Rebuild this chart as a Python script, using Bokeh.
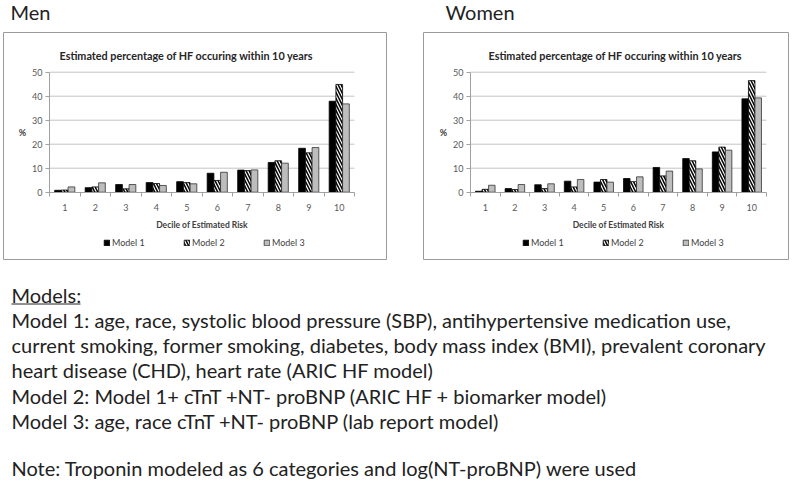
from bokeh.plotting import figure
from bokeh.models import ColumnDataSource, Range1d, LinearAxis, FixedTicker, Label
from bokeh.transform import dodge
from bokeh.layouts import column, row
from bokeh.embed import file_html
from bokeh.resources import INLINE
from bokeh.core.properties import value

# ---------------- data ----------------
deciles = [1, 2, 3, 4, 5, 6, 7, 8, 9, 10]
men_model1 = [0.8, 1.9, 3.2, 4.0, 4.4, 7.9, 9.2, 12.4, 18.3, 37.9]
men_model2 = [0.9, 2.2, 1.4, 3.6, 4.0, 4.9, 9.0, 13.1, 16.4, 44.9]
men_model3 = [2.2, 3.9, 3.2, 2.8, 3.5, 8.3, 9.3, 12.1, 18.6, 36.8]
women_model1 = [0.4, 1.5, 3.1, 4.6, 4.2, 5.7, 10.3, 14.0, 16.8, 38.9]
women_model2 = [1.2, 1.1, 1.5, 2.2, 5.3, 4.4, 6.8, 13.1, 18.8, 46.5]
women_model3 = [2.9, 3.2, 3.5, 5.3, 4.2, 6.4, 8.8, 9.7, 17.5, 39.3]
y_ticks = [0, 10, 20, 30, 40, 50]
series_names = ["Model 1", "Model 2", "Model 3"]
chart_title = "Estimated percentage of HF occuring within 10 years"
x_label = "Decile of Estimated Risk"
y_label = "%"
headings = ["Men", "Women"]
notes_header = "Models:"
notes_lines = [
    "Model 1: age, race, systolic blood pressure (SBP), antihypertensive medication use,",
    "current smoking, former smoking, diabetes, body mass index (BMI), prevalent coronary",
    "heart disease (CHD), heart rate (ARIC HF model)",
    "Model 2: Model 1+ cTnT +NT- proBNP (ARIC HF + biomarker model)",
    "Model 3: age, race cTnT +NT- proBNP (lab report model)",
]
note_footer = "Note: Troponin modeled as 6 categories and log(NT-proBNP) were used"

# ---------------- style / layout constants (page pixels) ----------------
FONT = "Lato"
TEXT_COLOR = "#222222"
AXIS_COLOR = "#a0a0a0"
BOX_COLOR = "#9a9a9a"
GRID_COLOR = "#c4c4c4"
W_TOTAL = 800
HDR_H = 31          # page y 0..31
CHART_H = 239       # page y 31..270
NOTES_H = 213       # page y 270..483
CHART_TOP = HDR_H
NOTES_TOP = HDR_H + CHART_H
FRAME_T, FRAME_B = 32, 259      # chart box, page px
Y0_PX, Y50_PX = 191.7, 71.7     # page px of value 0 and 50
BAR_W = 0.22
NOTE_SIZE = 20
MID = 0.35 * NOTE_SIZE          # baseline -> "middle" anchor shift


def make_chart(fig_l, fig_w, frame_l, frame_r, plot_l, plot_r, title_cx, legend_l, m1, m2, m3):
    ux = (plot_r - plot_l) / len(deciles)
    x_start = 0.5 - (plot_l - frame_l) / ux
    x_end = len(deciles) + 0.5 + (frame_r - plot_r) / ux
    uy = (Y0_PX - Y50_PX) / y_ticks[-1]
    y_end = y_ticks[-1] + (Y50_PX - FRAME_T) / uy
    y_start = -(FRAME_B - Y0_PX) / uy

    def px_x(px):
        return x_start + (px - frame_l) / ux

    def px_y(py):
        return (Y0_PX - py) / uy

    p = figure(width=fig_w, height=CHART_H, title=None,
               x_range=Range1d(x_start, x_end), y_range=Range1d(y_start, y_end),
               x_axis_type=None, y_axis_type=None, toolbar_location=None,
               output_backend="svg",
               min_border_left=frame_l - fig_l, min_border_right=fig_l + fig_w - frame_r,
               min_border_top=FRAME_T - CHART_TOP, min_border_bottom=CHART_TOP + CHART_H - FRAME_B)
    p.outline_line_color = BOX_COLOR
    p.outline_line_width = 1
    p.background_fill_color = "white"
    p.border_fill_color = "white"

    # gridlines across the plot area
    gsrc = ColumnDataSource(dict(y=y_ticks[1:],
                                 x0=[0.5] * (len(y_ticks) - 1),
                                 x1=[len(deciles) + 0.5] * (len(y_ticks) - 1)))
    p.segment(x0="x0", x1="x1", y0="y", y1="y", source=gsrc, line_color=GRID_COLOR, line_width=1)

    src = ColumnDataSource(dict(decile=deciles, m1=m1, m2=m2, m3=m3))
    p.vbar(x=dodge("decile", -BAR_W, range=p.x_range), top="m1", bottom=0, width=BAR_W, source=src,
           fill_color="black", line_color="black", line_width=0.8, legend_label=series_names[0])
    p.vbar(x=dodge("decile", 0, range=p.x_range), top="m2", bottom=0, width=BAR_W, source=src,
           fill_color="white", hatch_pattern="\\", hatch_color="black", hatch_scale=6,
           hatch_weight=1.5, line_color="black", line_width=0.8, legend_label=series_names[1])
    p.vbar(x=dodge("decile", BAR_W, range=p.x_range), top="m3", bottom=0, width=BAR_W, source=src,
           fill_color="#bdbdbd", line_color="#333333", line_width=0.8, legend_label=series_names[2])

    # y axis
    yaxis = LinearAxis(fixed_location=0.5, bounds=(y_ticks[0], y_ticks[-1]),
                       ticker=FixedTicker(ticks=y_ticks, minor_ticks=[]))
    yaxis.axis_line_color = AXIS_COLOR
    yaxis.major_tick_line_color = AXIS_COLOR
    yaxis.major_tick_out = 4
    yaxis.major_tick_in = 0
    yaxis.minor_tick_line_color = None
    yaxis.major_label_standoff = 3
    yaxis.major_label_text_font = FONT
    yaxis.major_label_text_font_size = "9px"
    yaxis.major_label_text_color = "#595959"
    yaxis.axis_label = y_label
    yaxis.axis_label_orientation = "horizontal"
    yaxis.axis_label_standoff = 3
    yaxis.axis_label_text_font = FONT
    yaxis.axis_label_text_font_style = "bold"
    yaxis.axis_label_text_font_size = "9px"
    yaxis.axis_label_text_color = "#404040"
    p.add_layout(yaxis, "left")

    # x axis
    bounds = [d - 0.5 for d in deciles] + [deciles[-1] + 0.5]
    xaxis = LinearAxis(fixed_location=0, bounds=(bounds[0], bounds[-1]),
                       ticker=FixedTicker(ticks=deciles, minor_ticks=bounds))
    xaxis.axis_line_color = AXIS_COLOR
    xaxis.major_tick_out = 0
    xaxis.major_tick_in = 0
    xaxis.minor_tick_out = 4
    xaxis.minor_tick_in = 0
    xaxis.minor_tick_line_color = AXIS_COLOR
    xaxis.major_label_standoff = 8
    xaxis.major_label_text_font = FONT
    xaxis.major_label_text_font_size = "9px"
    xaxis.major_label_text_color = "#595959"
    xaxis.axis_label = x_label
    xaxis.axis_label_standoff = 5
    xaxis.axis_label_text_font = FONT
    xaxis.axis_label_text_font_style = "bold"
    xaxis.axis_label_text_font_size = "8.5px"
    xaxis.axis_label_text_color = "#404040"
    p.add_layout(xaxis, "below")

    # chart title
    p.add_layout(Label(x=px_x(title_cx), y=px_y(55), text=chart_title, text_align="center",
                       text_baseline="middle", text_font=FONT, text_font_style="bold",
                       text_font_size="10.8px", text_color="#262626"))

    leg = p.legend[0]
    leg.orientation = "horizontal"
    leg.location = (legend_l - frame_l, FRAME_B - 243 - 5)
    leg.glyph_width = 7
    leg.glyph_height = 7
    leg.label_standoff = 2
    leg.spacing = 37
    leg.padding = 0
    leg.margin = 0
    leg.label_height = 10
    leg.label_width = 34
    leg.label_text_font = FONT
    leg.label_text_font_size = "9px"
    leg.label_text_color = "#404040"
    leg.border_line_color = None
    leg.background_fill_alpha = 0
    return p


men = make_chart(fig_l=0, fig_w=400, frame_l=3, frame_r=386, plot_l=49, plot_r=354,
                 title_cx=186, legend_l=103, m1=men_model1, m2=men_model2, m3=men_model3)
women = make_chart(fig_l=400, fig_w=400, frame_l=423, frame_r=788, plot_l=470, plot_r=766,
                   title_cx=615, legend_l=522, m1=women_model1, m2=women_model2, m3=women_model3)

# ---------------- headings ----------------
hdr = figure(width=W_TOTAL, height=HDR_H, title=None, x_range=Range1d(0, W_TOTAL),
             y_range=Range1d(HDR_H, 0), x_axis_type=None, y_axis_type=None,
             toolbar_location=None, output_backend="svg", min_border=0, outline_line_color=None)
head_base = 18
hsrc = ColumnDataSource(dict(x=[10, 445], y=[head_base - MID] * 2, t=headings))
hdr.text(x="x", y="y", text="t", source=hsrc, text_font=value(FONT),
         text_font_size=f"{NOTE_SIZE}px", text_baseline="middle", text_align="left",
         text_color=TEXT_COLOR)

# ---------------- notes ----------------
notes = figure(width=W_TOTAL, height=NOTES_H, title=None, x_range=Range1d(0, W_TOTAL),
               y_range=Range1d(NOTES_H, 0), x_axis_type=None, y_axis_type=None,
               toolbar_location=None, output_backend="svg", min_border=0, outline_line_color=None)
all_lines = [notes_header] + notes_lines + [note_footer]
first_base = 301 - NOTES_TOP
step = 25.3
baselines = [first_base + i * step for i in range(len(all_lines) - 1)]
baselines.append(first_base + len(all_lines) * step - 4)   # blank line before the note
nsrc = ColumnDataSource(dict(x=[11] * len(all_lines), y=[b - MID for b in baselines], t=all_lines))
notes.text(x="x", y="y", text="t", source=nsrc, text_font=value(FONT),
           text_font_size=f"{NOTE_SIZE}px", text_baseline="middle", text_align="left",
           text_color=TEXT_COLOR)
notes.segment(x0=[11], x1=[80], y0=[first_base + 2.5], y1=[first_base + 2.5],
              line_color=TEXT_COLOR, line_width=1)

layout = column(hdr, row(men, women), notes)
open("out.html", "w").write(file_html(layout, INLINE))
